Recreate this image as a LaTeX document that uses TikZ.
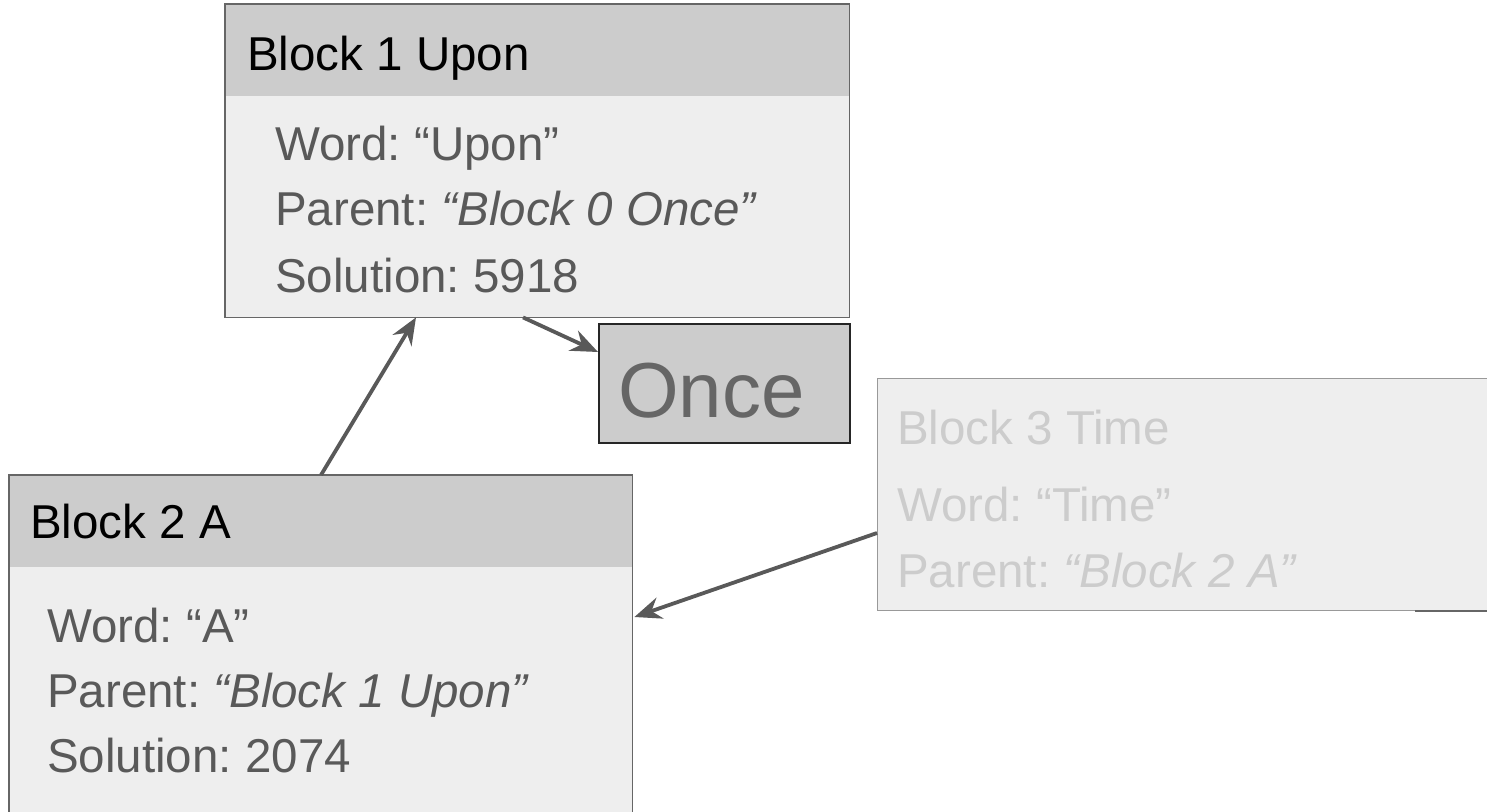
\documentclass[tikz,border=0pt]{standalone}
\usepackage{fontspec}
\setmainfont{Liberation Sans}
\usetikzlibrary{arrows.meta}
\frenchspacing
\definecolor{hdrgray}{HTML}{CCCCCC}
\definecolor{bodygray}{HTML}{EEEEEE}
\definecolor{inkgray}{HTML}{595959}
\definecolor{framegray}{HTML}{666666}
\definecolor{ghostgray}{HTML}{CCCCCC}
\definecolor{ghostframe}{HTML}{999999}

\tikzset{
  blockbody/.style={rectangle, fill=bodygray, anchor=north west, inner sep=0pt},
  blockhead/.style={rectangle, fill=hdrgray, anchor=north west, inner sep=0pt},
  headtext/.style={anchor=base west, inner sep=0pt, font=\fontsize{47.5}{56}\selectfont, text=black},
  fieldtext/.style={anchor=base west, inner sep=0pt, font=\fontsize{47.5}{56}\selectfont, text=inkgray},
  ghosttext/.style={fieldtext, text=ghostgray},
  frame/.style={draw=framegray, line width=1.8pt},
  link/.style={draw=inkgray, line width=3.8pt, -{Stealth[length=27pt,width=22pt,inset=9pt]}},
}

\begin{document}
\begin{tikzpicture}[x=1pt, y=-1pt]
\useasboundingbox (0,0) rectangle (1487,811);
\clip (0,0) rectangle (1487,811);

% Block 1
\node[blockbody, minimum width=624pt, minimum height=313pt] (b1) at (225,4) {};
\node[blockhead, minimum width=624pt, minimum height=92pt] (b1h) at (225,4) {};
\draw[frame] (b1.north west) rectangle (b1.south east);
\node[headtext] (b1t) at (247,70) {Block 1 Upon};
\node[fieldtext] (b1w) at (275,160) {Word: “Upon”};
\node[fieldtext] (b1p) at (275,225) {Parent: \textit{“Block 0 Once”}};
\node[fieldtext] (b1s) at (275,292) {Solution: 5918};

% Once
\node[rectangle, fill=hdrgray, draw=black!85, line width=2pt, anchor=north west,
      minimum width=251pt, minimum height=119pt, inner sep=0pt] (once) at (598,323) {};
\node[anchor=base west, inner sep=0pt, font=\fontsize{78}{90}\selectfont, text=framegray]
      (oncet) at (618,417) {Once};

% Block 3
\node[blockbody, draw=ghostframe, line width=1.2pt, minimum width=640pt, minimum height=232pt] (b3) at (877,378) {};
\draw[framegray, line width=2.2pt] ([xshift=538pt]b3.south west) -- ([xshift=620pt]b3.south west);
\node[ghosttext] (b3t) at (897,444) {Block 3 Time};
\node[ghosttext] (b3w) at (897,521) {Word: “Time”};
\node[ghosttext] (b3p) at (897,587) {Parent: \textit{“Block 2 A”}};

% Block 2
\node[blockbody, minimum width=623pt, minimum height=350pt] (b2) at (9,475) {};
\node[blockhead, minimum width=623pt, minimum height=92pt] (b2h) at (9,475) {};
\draw[frame] (b2.north west) rectangle (b2.south east);
\node[headtext] (b2t) at (30,538) {Block 2 A};
\node[fieldtext] (b2w) at (47,642) {Word: “A”};
\node[fieldtext] (b2p) at (47,707) {Parent: \textit{“Block 1 Upon”}};
\node[fieldtext] (b2s) at (47,772) {Solution: 2074};

% Links
\draw[link] ([xshift=312pt]b2.north west) -- ([xshift=191pt]b1.south west);
\draw[link] ([xshift=298pt]b1.south west) -- ([yshift=-29pt]once.north west);
\draw[link] ([yshift=-155pt]b3.north west) -- ([xshift=2pt,yshift=-142pt]b2.north east);
\end{tikzpicture}
\end{document}
